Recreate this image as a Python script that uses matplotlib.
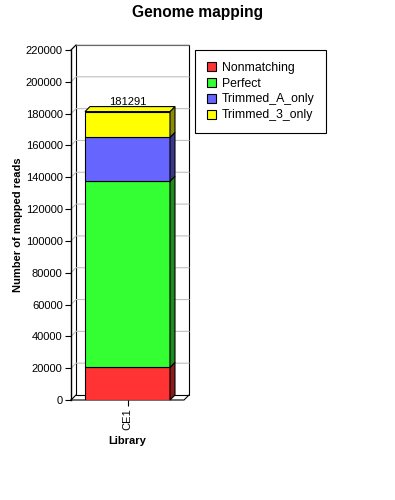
import matplotlib
matplotlib.use("Agg")
import matplotlib.pyplot as plt
from matplotlib.patches import Polygon, Rectangle
from matplotlib.lines import Line2D
import numpy as np

plt.rcParams["font.family"] = ["Liberation Sans", "DejaVu Sans"]

libraries = ["CE1"]
series = ["Nonmatching", "Perfect", "Trimmed_A_only", "Trimmed_3_only"]
values = {
    "Nonmatching": [20500],
    "Perfect": [117100],
    "Trimmed_A_only": [27500],
    "Trimmed_3_only": [16191],
}
colors = ["#ff3333", "#33ff33", "#6666ff", "#ffff00"]
yticks = np.arange(0, 220001, 20000)

W, H = 395, 500
fig = plt.figure(figsize=(W / 100, H / 100), dpi=100)
fig.patch.set_facecolor("white")

# front plane of the plot area, in pixels
x0, x1, ybot, ytop = 71, 184, 400, 50
ax = fig.add_axes([x0 / W, 1 - ybot / H, (x1 - x0) / W, (ybot - ytop) / H])
ax.set_xlim(-0.5, 0.5)
ax.set_ylim(0, 220000)
ax.patch.set_visible(False)
for s in ["top", "right", "bottom"]:
    ax.spines[s].set_visible(False)
ax.spines["left"].set_linewidth(1)

depth = 5  # 3d offset in pixels
dx = depth / (x1 - x0) * 1.0
dy = depth / (ybot - ytop) * 220000


def darker(c, f=0.55):
    r, g, b = matplotlib.colors.to_rgb(c)
    return (r * f, g * f, b * f)


# back wall, floor and gridlines
wall = Rectangle((-0.5 + dx, dy), 1.0, 220000, facecolor="white", edgecolor="black",
                 lw=0.8, zorder=0, clip_on=False)
ax.add_patch(wall)
for v in yticks[1:]:
    ax.add_line(Line2D([-0.5, -0.5 + dx, 0.5 + dx], [v, v + dy, v + dy],
                       color="#c0c0c0", lw=0.8, zorder=0.5, clip_on=False))
ax.add_line(Line2D([-0.5, -0.5 + dx], [220000, 220000 + dy], color="black", lw=0.8, clip_on=False))
ax.add_line(Line2D([-0.5, 0.5, 0.5 + dx], [0, 0, dy], color="black", lw=0.8, clip_on=False))
ax.add_line(Line2D([-0.5, -0.5 + dx], [0, dy], color="black", lw=0.8, clip_on=False))

# stacked bars with 3d sides
width = 0.752
x = np.arange(len(libraries))
bottom = np.zeros(len(libraries))
for name, col in zip(series, colors):
    vals = np.array(values[name])
    ax.bar(x, vals, width, bottom=bottom, color=col, edgecolor="black", lw=0.8,
           label=name, zorder=2)
    for xi, b, v in zip(x, bottom, vals):
        xr = xi + width / 2
        side = Polygon([(xr, b), (xr, b + v), (xr + dx, b + v + dy), (xr + dx, b + dy)],
                       closed=True, facecolor=darker(col), edgecolor="black", lw=0.8,
                       zorder=2, clip_on=False)
        ax.add_patch(side)
    bottom = bottom + vals

top_col = colors[-1]
for xi, t in zip(x, bottom):
    xl, xr = xi - width / 2, xi + width / 2
    ax.add_patch(Polygon([(xl, t), (xr, t), (xr + dx, t + dy), (xl + dx, t + dy)],
                         closed=True, facecolor=top_col, edgecolor="black", lw=0.8,
                         zorder=2, clip_on=False))
    ax.annotate(f"{int(t)}", (xi, t), xytext=(0, 3), textcoords="offset points",
                ha="center", va="bottom", fontsize=8)

ax.set_yticks(yticks)
ax.set_yticklabels([str(v) for v in yticks], fontsize=8)
ax.set_xticks(x)
ax.set_xticklabels(libraries, rotation=90, fontsize=8)
ax.tick_params(axis="y", length=4, width=0.8, pad=2)
ax.tick_params(axis="x", length=4, width=0.8, pad=2)
ax.set_ylabel("Number of mapped reads", fontsize=8, fontweight="bold", labelpad=2)
ax.set_xlabel("Library", fontsize=8, fontweight="bold", labelpad=4)

fig.text(0.5, 1 - 12 / H, "Genome mapping", ha="center", va="center",
         fontsize=11.2, fontweight="bold")

leg = fig.legend(loc="upper left", bbox_to_anchor=(195 / W, 1 - 50 / H), borderaxespad=0,
                 fancybox=False, edgecolor="black", framealpha=1, fontsize=8.8,
                 handlelength=0.75, handleheight=0.75, handletextpad=0.5,
                 labelspacing=0.32, borderpad=0.95)
leg.get_frame().set_linewidth(0.8)

fig.savefig("out.png", dpi=100)
